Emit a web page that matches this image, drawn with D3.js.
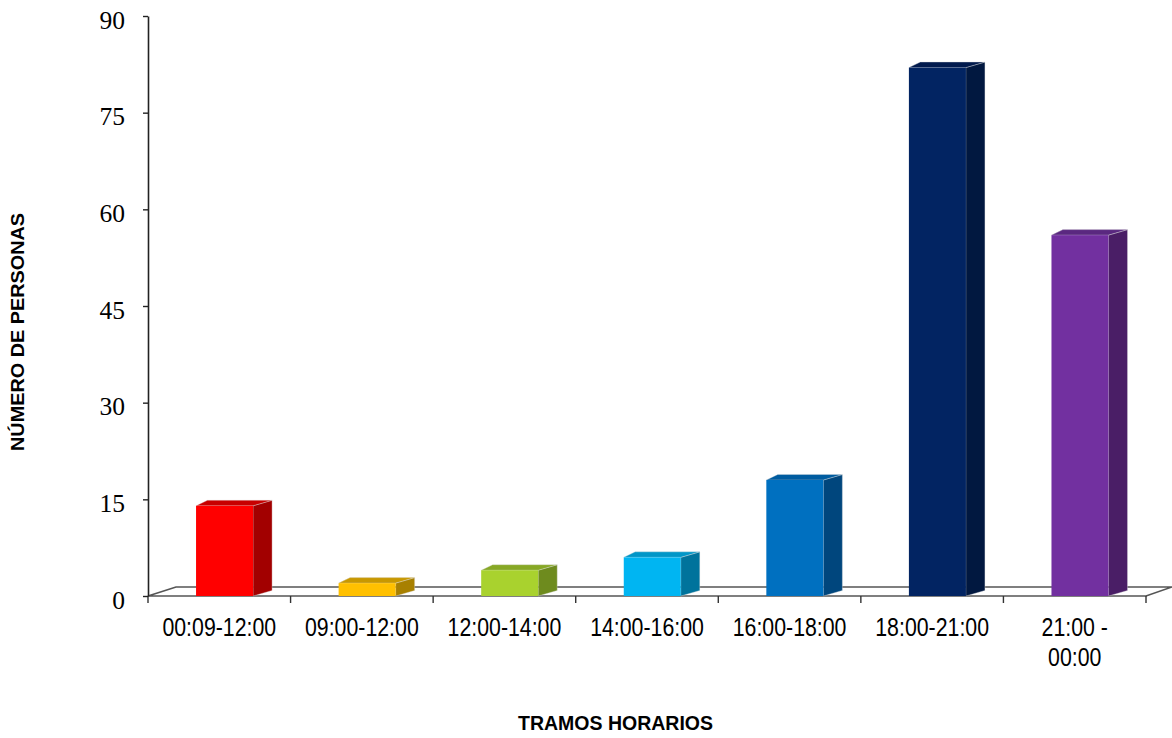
<!DOCTYPE html>
<html>
<head>
<meta charset="utf-8">
<script src="https://cdn.jsdelivr.net/npm/d3@7"></script>
<style>
  html, body { margin: 0; padding: 0; background: #fff; }
  svg { display: block; }
</style>
</head>
<body>
<svg id="chart" width="1172" height="738"></svg>
<script>
const categories = ["00:09-12:00", "09:00-12:00", "12:00-14:00", "14:00-16:00", "16:00-18:00", "18:00-21:00", "21:00 - 00:00"];
const values = [14, 2, 4, 6, 18, 82, 56];
const yTicks = [0, 15, 30, 45, 60, 75, 90];
const frontColors = ["#FF0000", "#FFC000", "#A9D22E", "#00B5F2", "#0070C0", "#022462", "#7230A0"];
const sideColors  = ["#A20000", "#A88000", "#6E8B1E", "#00739C", "#00467D", "#011840", "#4A1E66"];
const topColors   = ["#C80000", "#C89800", "#87A825", "#0096C8", "#005CA0", "#011A4D", "#5A2880"];
const yTitle = "NÚMERO DE PERSONAS";
const xTitle = "TRAMOS HORARIOS";

const svg = d3.select("#chart");
const x = d3.scaleBand().domain(categories).range([148, 1146]).padding(0);
const y = d3.scaleLinear().domain([0, 90]).range([596, 16]);
const step = x.step();
const barOff = step * 0.337, barW = step * 0.40;
const depX = 19, depY = -5.5;
const floorDx = 28, floorDy = -9;

// floor
const fl = svg.append("g");
const x0 = x.range()[0], x1 = x.range()[1], yb = y(0);
fl.append("path")
  .attr("d", `M${x0},${yb} L${x0 + floorDx},${yb + floorDy} L${x1 + floorDx - 2},${yb + floorDy} L${x1},${yb} Z`)
  .attr("fill", "#fff").attr("stroke", "#555").attr("stroke-width", 1.6);

// x ticks
svg.append("g").selectAll("line")
  .data(categories.map(c => x(c)).concat([x1]))
  .join("line")
  .attr("x1", d => d).attr("x2", d => d)
  .attr("y1", yb).attr("y2", yb + 7)
  .attr("stroke", "#333").attr("stroke-width", 1.4);

// bars
const bars = svg.append("g").selectAll("g").data(categories).join("g");
bars.each(function(c, i) {
  const g = d3.select(this);
  const bx = x(c) + barOff, bt = y(values[i]);
  g.append("path")
    .attr("d", `M${bx + barW},${yb} L${bx + barW + depX},${yb + depY} L${bx + barW + depX},${bt + depY} L${bx + barW},${bt} Z`)
    .attr("fill", sideColors[i]).attr("stroke", "rgba(220,220,220,0.6)").attr("stroke-width", 0.6);
  g.append("path")
    .attr("d", `M${bx},${bt} L${bx + depX * 0.6},${bt + depY} L${bx + barW + depX},${bt + depY} L${bx + barW},${bt} Z`)
    .attr("fill", topColors[i]).attr("stroke", "rgba(220,220,220,0.6)").attr("stroke-width", 0.6);
  g.append("rect")
    .attr("x", bx).attr("y", bt).attr("width", barW).attr("height", yb - bt)
    .attr("fill", frontColors[i]);
});

// y axis
const ya = svg.append("g").attr("transform", "translate(148,0)")
  .call(d3.axisLeft(y).tickValues(yTicks).tickSize(5).tickSizeOuter(0).tickPadding(18));
ya.select(".domain").attr("stroke", "#222").attr("stroke-width", 1.6);
ya.selectAll(".tick line").attr("stroke", "#222").attr("stroke-width", 1.4);
ya.selectAll(".tick text")
  .attr("font-family", "'Liberation Serif', 'Times New Roman', serif")
  .attr("font-size", 25.5).attr("fill", "#000")
  .attr("dy", "0.48em");

// x labels
const xl = svg.append("g").selectAll("g").data(categories).join("g")
  .attr("transform", c => `translate(${x(c) + step / 2},636) scale(0.82,1)`);
xl.each(function(c) {
  const parts = c.includes(" - ") ? [c.split(" - ")[0] + " -", c.split(" - ")[1]] : [c];
  d3.select(this).selectAll("text").data(parts).join("text")
    .attr("x", 0).attr("y", (d, j) => j * 30)
    .attr("text-anchor", "middle")
    .attr("font-family", "'Liberation Sans', Arial, sans-serif")
    .attr("font-size", 26).attr("fill", "#000")
    .text(d => d);
});

// titles
svg.append("text")
  .attr("transform", "translate(24,332) rotate(-90)")
  .attr("text-anchor", "middle")
  .attr("font-family", "'Liberation Sans', Arial, sans-serif")
  .attr("font-weight", "bold").attr("font-size", 18.5)
  .attr("textLength", 238).attr("lengthAdjust", "spacingAndGlyphs")
  .text(yTitle);

svg.append("text")
  .attr("x", 615.5).attr("y", 730)
  .attr("text-anchor", "middle")
  .attr("font-family", "'Liberation Sans', Arial, sans-serif")
  .attr("font-weight", "bold").attr("font-size", 20.5)
  .attr("textLength", 195).attr("lengthAdjust", "spacingAndGlyphs")
  .text(xTitle);
</script>
</body>
</html>
